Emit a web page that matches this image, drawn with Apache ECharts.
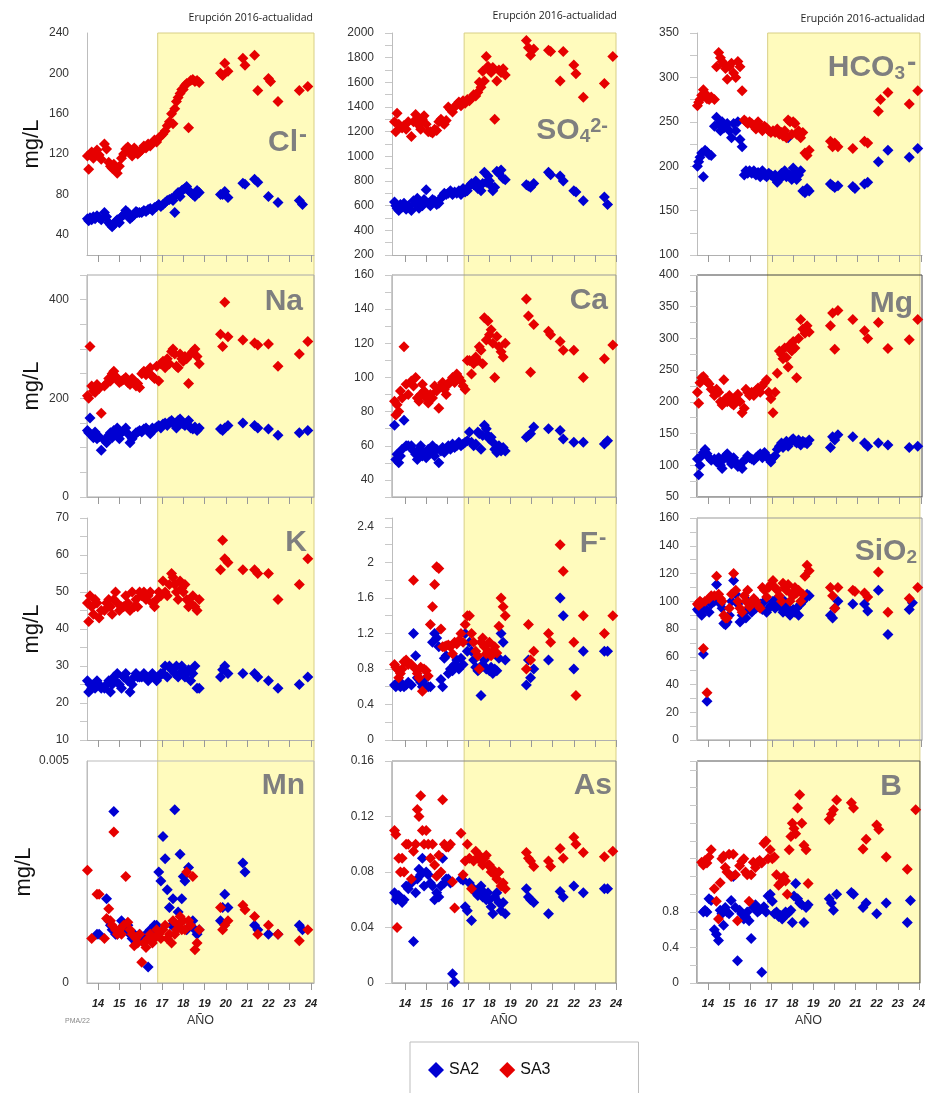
<!DOCTYPE html>
<html><head><meta charset="utf-8">
<script src="https://cdn.jsdelivr.net/npm/echarts@6/dist/echarts.min.js"></script>
<style>html,body{margin:0;padding:0;background:#fff}#c{width:928px;height:1093px}</style>
</head><body><div id="c"></div>
<script>
// Sampling dates (decimal year, 2-digit)
const fechas = [13.5,13.56,13.62,13.7,13.78,13.86,13.95,14.05,14.15,
 14.3,14.4,14.5,14.58,14.66,14.74,14.82,14.9,15.0,15.1,
 15.2,15.3,15.4,15.5,15.6,15.7,15.78,15.86,15.95,
 16.05,16.15,16.25,16.35,16.45,16.55,16.65,16.75,16.85,16.95,
 17.05,17.15,17.25,17.35,17.45,17.52,17.6,17.68,17.76,17.85,17.93,
 18.0,18.08,18.16,18.25,18.35,18.45,18.55,18.65,18.75,
 19.75,19.85,19.95,20.1,20.8,20.9,21.35,21.5,22.0,22.1,22.45,23.45,23.6,23.85];
const anios = [14,15,16,17,18,19,20,21,22,23,24];
const inicioErupcion = 16.8;

const cl_SA3 = [118,105,120,122,116,121,124,119,115, 130,125,112,108,106,110,104,101,108,116, 120,125,127,122,118,126,124,120,122, 124,128,126,130,128,131,134,132,136,138, 140,143,148,152,160,150,165,172,176,180,184, 184,188,190,146,193,194,192,193,191, 200,198,210,202,215,208,218,183,195,192,172,183,null,187];
const cl_SA2 = [56,54,57,55,58,56,59,57,55, 62,58,52,50,48,50,53,55,52,58, 60,64,62,56,58,60,63,62,62, 62,64,63,65,66,64,67,68,70,68, 70,72,74,75,76,74,62,80,82,78,84, 85,86,88,84,82,80,78,84,82, 80,80,83,77,91,90,95,92,78,null,72,74,70,null];
const so4_SA3 = [1280,1200,1350,1260,1240,1230,1250,1220,1280, 1160,1280,1340,1300,1250,1220,1300,1330,1260,1200, 1200,1190,1220,1210,1280,1300,1270,1260,1290, 1400,1380,1360,1400,1420,1440,1410,1450,1430,1460, 1450,1470,1500,1490,1520,1600,1560,1690,1610,1810,1730, 1700,1680,1720,1300,1610,1700,1680,1710,1660, 1940,1880,1820,1870,1860,1850,1610,1850,1740,1670,1480,1590,null,1810];
const so4_SA2 = [630,600,580,560,610,590,620,570,600, 560,640,610,660,580,620,600,650,730,620, 600,650,640,610,620,660,680,700,690, 700,720,690,710,700,720,690,740,710,720, 760,780,770,800,740,760,720,780,870,790,840, 800,760,720,750,880,860,890,820,810, 770,760,750,780,870,850,840,800,720,710,640,670,610,null];
const hco3_SA3 = [268,272,275,280,286,282,276,275,278, 275,312,328,322,318,315,310,298,312,316, 305,300,318,312,285,252,250,248,250, 248,245,242,250,245,240,245,243,240,238, 240,238,242,236,238,234,240,232,252,250,236, 250,248,236,240,232,238,215,212,218, 228,222,226,222,220,null,228,226,262,275,283,270,null,285];
const hco3_SA2 = [200,205,210,215,188,218,216,213,212, 245,255,248,240,250,243,245,248,240,232, 248,240,250,230,222,190,195,192,195, 192,195,190,193,188,195,190,188,192,190, 188,190,182,185,192,190,195,188,232,190,185, 198,192,185,190,195,172,170,175,172, 180,178,176,178,177,175,180,182,205,null,218,210,null,220];
const na_SA3 = [205,200,305,225,215,212,228,220,170, 225,230,240,235,250,255,245,240,232,235, 238,242,232,228,240,235,225,230,222, 250,255,248,252,262,245,240,265,235,270, 275,262,280,270,295,300,290,265,262,290,280, 275,285,280,230,290,295,300,285,270, 330,305,395,325,318,null,312,308,310,null,265,290,null,315];
const na_SA2 = [135,130,160,125,120,132,118,122,95, 115,110,125,130,120,135,128,140,118,130, 135,140,128,110,118,125,130,132,135, 132,138,140,135,128,140,138,142,145,140, 148,150,145,152,155,150,148,140,155,158,150, 148,145,150,155,140,138,142,135,140, 138,135,140,145,150,null,145,140,138,null,125,130,null,135];
const ca_SA3 = [86,78,84,80,92,88,118,96,90, 98,95,100,88,86,90,96,92,88,85, 90,88,95,92,82,95,97,93,90, 96,98,100,97,102,100,98,95,93,110, 110,102,108,112,110,118,116,108,135,122,133, 125,128,120,100,124,118,115,112,120, 146,136,103,131,127,125,121,116,116,null,100,111,null,119];
const ca_SA2 = [72,52,55,50,54,58,75,60,60, 60,57,55,52,58,60,54,56,53,58, 56,60,54,58,50,57,59,56,58, 60,58,61,59,60,62,60,61,62,63, 68,62,60,61,68,67,58,66,72,70,66, 64,65,62,58,56,60,57,59,57, 65,66,67,71,70,null,69,64,62,null,62,61,63,null];
const mg_SA3 = [215,198,230,238,240,235,232,228,220, 210,220,215,200,195,235,205,200,210,198, 195,205,212,200,183,190,220,215,210, 215,210,218,222,215,225,230,235,215,205, 183,215,245,280,275,268,285,270,255,290,280, 295,285,238,300,330,315,308,320,310, 320,340,283,344,330,null,312,300,325,null,284,298,null,330];
const mg_SA2 = [110,85,100,115,120,125,118,112,108, 110,105,112,100,95,110,115,118,108,102, 112,105,98,100,95,108,110,115,112, 110,108,112,115,118,112,120,115,110,105, 112,115,125,130,135,128,132,138,130,136,140, 142,138,135,140,132,138,136,134,140, 128,145,140,148,145,null,135,130,135,null,132,128,null,130];
const k_SA3 = [47,42,49,46,44,48,47,43,45, 45,47,48,46,44,48,50,47,45,46, 46,49,47,45,50,46,48,46,50, 49,50,48,49,50,47,46,48,50,49, 53,50,49,52,55,54,52,50,48,53,51, 50,52,48,46,47,49,46,45,48, 56,64,59,58,56,null,56,55,55,null,48,52,null,59];
const k_SA2 = [26,23,25,24,25,24,26,25,24, 24,25,26,23,25,27,26,28,25,24, 27,28,26,23,25,27,28,27,27, 27,28,27,26,27,28,27,26,27,28, 28,30,27,30,29,29,28,30,27,28,30, 29,27,28,29,26,28,30,24,24, 27,29,30,28,28,null,28,27,26,null,24,25,null,27];
const f_SA3 = [0.85,0.82,0.8,0.7,0.75,0.8,0.88,0.9,0.85, 0.85,1.8,0.8,0.75,0.7,0.82,0.55,0.8,0.78,0.72, 1.3,1.5,1.75,1.95,1.93,1.25,1.05,1.05,1.06, 1.07,1.05,0.97,1.1,1.08,1.12,1.2,1.1,1.3,1.4, 1.4,1.2,1.1,1.0,0.95,0.8,1.1,1.15,1.05,0.97,1.0, 1.1,0.95,1.0,1.05,0.98,1.28,1.6,1.5,1.4, 0.8,1.3,0.9,1.0,1.2,1.1,2.2,1.9,1.1,0.5,1.4,1.2,null,1.4];
const f_SA2 = [0.62,0.6,0.64,0.62,0.6,0.63,0.6,0.62,0.65, 0.62,1.2,0.95,0.7,0.68,0.65,0.6,0.62,0.7,0.6, 0.6,1.1,1.2,1.15,1.05,0.68,0.6,0.92,0.95, 0.75,0.8,0.78,0.85,0.9,0.8,0.92,0.85,1.2,1.0, 1.1,1.0,0.9,0.82,0.78,0.8,0.5,0.85,0.9,0.8,0.95, 0.78,0.82,0.75,0.8,0.78,0.92,1.2,1.1,0.9, 0.62,0.9,0.7,0.8,0.9,null,1.6,1.4,0.8,null,1.0,1.0,1.0,null];
const sio2_SA3 = [98,97,100,99,66,100,34,102,104, 104,118,105,102,100,90,88,88,95,105, 120,108,100,95,92,104,100,108,96, 98,102,100,97,95,110,108,103,110,112, 115,110,108,104,100,113,110,108,112,100,105, 104,110,106,108,100,105,118,126,122, 110,104,95,110,108,107,106,103,121,null,92,102,null,110];
const sio2_SA2 = [94,93,92,90,62,95,28,92,98, 100,112,100,98,95,84,83,85,90,100, 115,105,98,85,90,92,88,100,95, 92,94,95,96,98,94,100,92,95,97, 100,95,102,98,95,92,100,96,94,90,92, 94,92,95,90,98,100,102,105,104, 90,88,95,100,98,null,98,93,108,null,76,94,99,null];
const mn_SA3 = [0.00254,null,null,0.001,null,null,0.002,0.002,null, 0.001,0.00145,0.00167,0.0014,0.0013,0.0034,0.0012,0.0011,0.0012,0.0011, 0.0013,0.0024,0.00137,0.0012,0.0011,0.00084,0.001,0.0009,0.0011, 0.00047,0.0009,0.0008,0.001,0.0011,0.0009,0.001,0.0012,0.0011,0.001, 0.0012,0.0013,0.001,0.0011,0.0009,0.0014,0.0011,0.0012,0.0013,0.0015,0.0012, 0.0014,0.0012,0.0025,0.0014,0.0013,0.0024,0.00075,0.0009,0.0012, 0.0017,0.0012,0.0013,0.0014,0.00175,0.00165,0.0015,0.0011,0.0013,null,0.0011,0.00095,null,0.0012];
const mn_SA2 = [null,null,null,null,null,null,0.0011,0.0011,null, null,0.0019,0.0014,0.0013,0.0012,0.00386,0.0011,0.0011,0.0012,0.0014, 0.0013,0.0012,0.0013,0.0011,0.001,0.0011,0.0009,0.001,0.0011, 0.001,0.0009,0.0011,0.00036,0.0012,0.0011,0.0013,0.0013,0.0025,0.0023, 0.0033,0.0028,0.0021,0.0017,0.0013,0.0019,0.0039,0.0013,0.0016,0.0029,0.0019, 0.0024,0.0023,0.0012,0.0026,0.0013,0.0014,0.0012,0.0011,0.0012, 0.0014,0.0017,0.002,0.0017,0.0027,0.0025,0.0013,0.0012,0.0011,null,0.0011,0.0013,0.0012,null];
const as_SA3 = [0.11,0.107,0.04,0.09,0.08,0.09,0.08,0.1,0.1, 0.075,0.095,0.1,0.125,0.12,0.135,0.11,0.1,0.11,0.1, 0.09,0.1,0.085,0.077,0.092,0.08,0.132,0.1,0.098, 0.098,0.1,0.073,0.054,null,null,0.108,0.078,0.088,0.1, 0.09,0.068,0.088,0.095,0.09,0.092,0.088,0.085,0.09,0.092,0.085, 0.085,0.08,0.082,0.078,0.075,0.08,0.07,0.072,0.068, 0.094,0.09,0.088,0.084,0.088,0.084,0.097,0.09,0.105,0.1,0.094,0.091,null,0.095];
const as_SA2 = [0.065,0.06,0.062,0.063,0.06,0.058,0.06,0.07,0.068, 0.072,0.03,0.065,0.075,0.082,0.078,0.09,0.07,0.08,0.078, 0.072,0.07,0.06,0.065,0.062,0.07,0.09,0.072,0.075, 0.075,0.072,0.0067,0.0007,null,null,0.075,0.074,0.055,0.052, 0.072,0.045,0.068,0.065,0.063,0.068,0.07,0.062,0.065,0.06,0.065, 0.06,0.055,0.05,0.062,0.065,0.058,0.052,0.058,0.05, 0.068,0.062,0.06,0.058,0.05,null,0.066,0.062,0.07,null,0.065,0.068,0.068,null];
const b_SA3 = [null,null,null,1.36,1.33,1.38,1.35,1.42,1.5, 1.06,0.92,0.72,1.13,1.4,1.43,1.3,1.25,1.45,1.2, 1.45,1.22,0.7,1.32,1.37,1.4,1.25,1.22,0.92, 1.22,1.36,1.3,1.36,1.38,1.35,1.57,1.6,1.4,1.5, 1.4,1.42,1.22,1.1,1.13,1.18,1.2,1.15,1.0,1.5,1.65, 1.8,1.74,1.68,1.97,2.12,1.8,1.55,1.5,1.12, 1.84,1.9,1.95,2.06,2.03,1.97,1.51,1.62,1.78,1.73,1.42,1.28,null,1.95];
const b_SA2 = [null,null,null,null,0.8,0.82,0.8,0.95,0.93, 0.6,0.55,0.48,0.82,0.78,0.65,0.85,0.8,0.78,0.93, 1.2,0.85,0.25,0.82,0.78,0.72,0.75,0.8,0.7, 0.5,0.85,0.88,0.8,0.82,0.12,0.86,0.8,0.98,1.0, 0.92,0.78,0.8,0.75,0.76,0.72,0.75,0.8,0.78,0.8,0.82, 0.68,0.98,1.12,0.95,0.9,0.88,0.68,0.85,0.88, 0.95,0.9,0.82,1.0,1.02,1.0,0.85,0.9,0.78,null,0.9,0.68,0.93,null];

// Layout
const columnas = [
  {left:87, width:227, xmin:13.48, xmax:24.14},
  {left:392, width:224, xmin:13.38, xmax:24.0},
  {left:697, width:225, xmin:13.48, xmax:24.05}
];
const filas = [{top:33,height:222},{top:275,height:222},{top:518,height:222},{top:761,height:222}];

const paneles = [
 {sa2:cl_SA2, sa3:cl_SA3, min:20, max:240, step:20, lab:40, tick:false, border:null},
 {sa2:so4_SA2, sa3:so4_SA3, min:200, max:2000, step:100, lab:200, tick:true, border:null},
 {sa2:hco3_SA2, sa3:hco3_SA3, min:100, max:350, step:25, lab:50, tick:true, border:null},
 {sa2:na_SA2, sa3:na_SA3, min:0, max:450, step:50, lab:200, tick:true, border:'#a8a8a8'},
 {sa2:ca_SA2, sa3:ca_SA3, min:30, max:160, step:10, lab:20, tick:true, border:'#999'},
 {sa2:mg_SA2, sa3:mg_SA3, min:50, max:400, step:25, lab:50, tick:true, border:'#444'},
 {sa2:k_SA2, sa3:k_SA3, min:10, max:70, step:5, lab:10, tick:true, border:null},
 {sa2:f_SA2, sa3:f_SA3, min:0, max:2.5, step:0.2, lab:0.4, labMax:2.4, tick:true, border:null},
 {sa2:sio2_SA2, sa3:sio2_SA3, min:0, max:160, step:10, lab:20, tick:true, border:'#999'},
 {sa2:mn_SA2, sa3:mn_SA3, min:0, max:0.005, step:0.005, lab:0.005, tick:false, border:'#bbb'},
 {sa2:as_SA2, sa3:as_SA3, min:0, max:0.16, step:0.04, lab:0.04, tick:true, border:'#888'},
 {sa2:b_SA2, sa3:b_SA3, min:0, max:2.5, step:0.2, lab:0.4, labMax:0.8, tick:true, border:'#555'}
];

// Panel names: main text (right-aligned at x), optional superscript minus drawn just after it
const etiquetas = [
 {text:'{m|Cl}', x:298, y:143, menos:{x:299, y:135, size:24}},
 {text:'{m|SO}{b|4}{p|2-}', x:608, y:131},
 {text:'{m|HCO}{b|3}', x:905, y:68, menos:{x:907, y:63, size:28}},
 {text:'{m|Na}', x:303, y:302},
 {text:'{m|Ca}', x:608, y:301},
 {text:'{m|Mg}', x:913, y:304},
 {text:'{m|K}', x:307, y:543},
 {text:'{m|F}', x:598, y:544, menos:{x:599, y:538, size:22}},
 {text:'{m|SiO}{b|2}', x:917, y:552},
 {text:'{m|Mn}', x:305, y:786},
 {text:'{m|As}', x:612, y:786},
 {text:'{m|B}', x:902, y:787}
];
const titulos = [{x:313,y:18},{x:617,y:16},{x:925,y:19}];

const FONT = 'Liberation Sans, Arial, sans-serif';
function pares(v){ const out=[]; fechas.forEach((d,i)=>{ if(v[i]!=null) out.push([d,v[i]]); }); return out; }
function fmt(p){ return function(v){
  const r = v/p.lab; if (Math.abs(r-Math.round(r))>1e-6) return '';
  if (p.labMax!=null && v>p.labMax+1e-9) return '';
  return String(parseFloat(v.toPrecision(6)));
};}

const grid=[], xAxis=[], yAxis=[], series=[];
paneles.forEach((p,i)=>{
  const col=i%3, row=Math.floor(i/3), C=columnas[col], R=filas[row];
  grid.push({left:C.left, width:C.width, top:R.top, height:R.height, show:!!p.border,
    borderColor:p.border||'transparent', borderWidth:1, backgroundColor:'transparent'});
  xAxis.push({gridIndex:i, type:'value', min:C.xmin, max:C.xmax,
    axisLine:{show:true, lineStyle:{color:'#b0b0b0'}},
    axisTick:{show:true, customValues:anios, length:7, lineStyle:{color:'#999'}},
    axisLabel:{show:row===3, customValues:anios, margin:15, fontSize:11, fontStyle:'italic', fontWeight:'bold', color:'#222', fontFamily:FONT},
    splitLine:{show:false},
    name: row===3 ? 'AÑO' : '', nameLocation:'middle', nameGap:31,
    nameTextStyle:{fontSize:12.5, color:'#333', fontFamily:FONT}});
  yAxis.push({gridIndex:i, type:'value', min:p.min, max:p.max, interval:p.step,
    axisLine:{show:true, lineStyle:{color:'#bdbdbd'}},
    axisTick:{show:p.tick, length:7, lineStyle:{color:'#c8c8c8'}},
    axisLabel:{margin:18, fontSize:12, color:'#333', fontFamily:FONT, formatter:fmt(p), showMinLabel:true, showMaxLabel:true},
    splitLine:{show:false},
    name: col===0 ? 'mg/L' : '', nameLocation:'middle', nameGap:44,
    nameTextStyle:{fontSize:22, color:'#111', fontFamily:FONT}});
  series.push({name:'SA2', type:'scatter', xAxisIndex:i, yAxisIndex:i, symbol:'diamond', symbolSize:11,
    itemStyle:{color:'#0000d2', opacity:1}, data:pares(p.sa2), clip:false, silent:true});
  series.push({name:'SA3', type:'scatter', xAxisIndex:i, yAxisIndex:i, symbol:'diamond', symbolSize:11,
    itemStyle:{color:'#e60000', opacity:1}, data:pares(p.sa3), clip:false, silent:true});
});

const chart = echarts.init(document.getElementById('c'), null, {renderer:'canvas'});
chart.setOption({
  animation:false, backgroundColor:'#fff',
  grid, xAxis, yAxis, series,
  legend:{data:['SA2','SA3'], left:410, top:1042, orient:'horizontal', padding:[20,88,30,18], itemGap:20,
    itemWidth:16, itemHeight:16, borderColor:'#bdbdbd', borderWidth:1, selectedMode:false,
    itemStyle:{opacity:1},
    textStyle:{fontSize:16, color:'#111', fontFamily:FONT}}
});

const graf = [];
for (let c=0;c<3;c++){
  const a = chart.convertToPixel({gridIndex:c}, [inicioErupcion, paneles[c].max]);
  const b = chart.convertToPixel({gridIndex:9+c}, [columnas[c].xmax, paneles[9+c].min]);
  graf.push({type:'rect', id:'erup'+c, z:-10, silent:true,
    shape:{x:a[0], y:a[1], width:b[0]-a[0], height:b[1]-a[1]},
    style:{fill:'#fffbbd', stroke:'#d8cf86', lineWidth:1}});
  graf.push({type:'text', id:'tit'+c, x:titulos[c].x, y:titulos[c].y, silent:true,
    style:{text:'Erupción 2016-actualidad', fontSize:10.5, fontFamily:'Open Sans', fill:'#222', align:'right', verticalAlign:'middle'}});
}
const G = '#7f7f7f';
etiquetas.forEach((e,i)=>{
  graf.push({type:'text', id:'lab'+i, x:e.x, y:e.y, z:5, silent:true,
    style:{text:e.text, align:'right', verticalAlign:'middle',
      rich:{
        m:{fontSize:30, fontWeight:'bold', fontFamily:FONT, fill:G, color:G, lineHeight:30},
        b:{fontSize:19, fontWeight:'bold', fontFamily:FONT, fill:G, color:G, lineHeight:4, verticalAlign:'bottom'},
        p:{fontSize:20, fontWeight:'bold', fontFamily:FONT, fill:G, color:G, lineHeight:6, verticalAlign:'top'}
      }}});
  if (e.menos) {
    graf.push({type:'text', id:'men'+i, x:e.menos.x, y:e.menos.y, z:5, silent:true,
      style:{text:'-', fontSize:e.menos.size, fontWeight:'bold', fontFamily:FONT, fill:G, align:'left', verticalAlign:'middle'}});
  }
});
graf.push({type:'text', id:'pma', x:65, y:1021, silent:true,
  style:{text:'PMA/22', fontSize:7, fontFamily:FONT, fill:'#888', verticalAlign:'middle'}});
chart.setOption({graphic:graf});
</script>
</body></html>
